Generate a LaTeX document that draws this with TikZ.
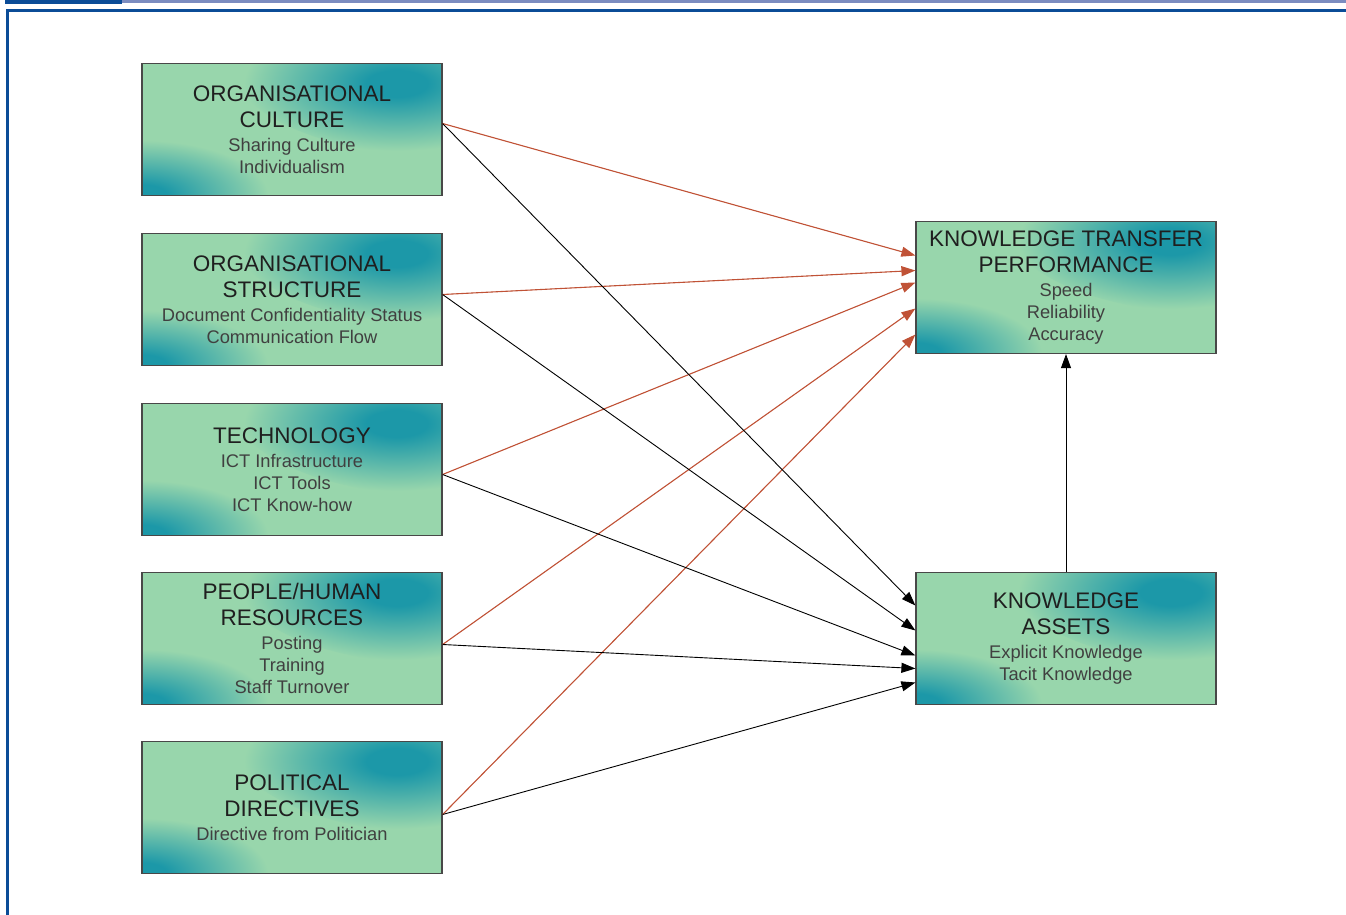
\documentclass[tikz,border=0pt]{standalone}
\usepackage{fontspec}
\setmainfont{Liberation Sans}
\usetikzlibrary{arrows.meta}
\definecolor{framedark}{RGB}{11,76,151}
\definecolor{framelight}{RGB}{123,140,192}
\definecolor{boxteal}{RGB}{28,152,168}
\definecolor{boxmint}{RGB}{152,214,172}
\definecolor{boxline}{RGB}{72,72,72}
\definecolor{redarrow}{RGB}{192,82,54}
\pgfdeclareradialshading{cornerglow}{\pgfpointorigin}{color(0bp)=(boxteal); color(3bp)=(boxteal); color(9bp)=(boxteal!50!boxmint); color(15bp)=(boxmint); color(50bp)=(boxmint)}
\newcommand{\hd}{\fontsize{22.5}{26}\selectfont\color{black!88}}

\begin{document}
\begin{tikzpicture}[x=1pt,y=-1pt]
\tikzset{box/.style = {shape=rectangle,draw=boxline,line width=1.2pt,
  minimum width=300pt,minimum height=132pt,align=center,fill=boxmint,
  path picture={
    \shade[shading=cornerglow] (path picture bounding box.north east) ellipse [x radius=210pt,y radius=92pt];
    \shade[shading=cornerglow] (path picture bounding box.south west) ellipse [x radius=210pt,y radius=92pt];},
  font=\fontsize{18.3}{22}\selectfont,text=black!75}}
\tikzset{edge/.style = {-{Triangle[length=14pt,width=10pt]},line width=0.9pt}}
\tikzset{redge/.style = {edge,draw=redarrow,fill=redarrow,line width=1.1pt}}
\useasboundingbox (0,0) rectangle (1346,915);
% frame
\fill[framedark] (5,0) rectangle (122,4);
\fill[framelight] (122,0) rectangle (1346,3.5);
\draw[framedark,line width=3pt] (7.5,915) -- (7.5,10.5) -- (1346,10.5);
% boxes
\node[box] (culture) at (292,129.5) {{\hd ORGANISATIONAL}\\[4pt]{\hd CULTURE}\\[2pt]Sharing Culture\\Individualism};
\node[box] (structure) at (292,299.5) {{\hd ORGANISATIONAL}\\[4pt]{\hd STRUCTURE}\\[2pt]Document Confidentiality Status\\Communication Flow};
\node[box] (tech) at (292,469.5) {{\hd TECHNOLOGY}\\[2pt]ICT Infrastructure\\ICT Tools\\ICT Know-how};
\node[box] (people) at (292,638.5) {{\hd PEOPLE/HUMAN}\\[4pt]{\hd RESOURCES}\\[2pt]Posting\\Training\\Staff Turnover};
\node[box] (politics) at (292,807.5) {{\hd POLITICAL}\\[4pt]{\hd DIRECTIVES}\\[2pt]Directive from Politician};
\node[box] (ktp) at (1066,287.5) {{\hd KNOWLEDGE TRANSFER}\\[4pt]{\hd PERFORMANCE}\\[2pt]Speed\\Reliability\\Accuracy};
\node[box] (assets) at (1066,638.5) {{\hd KNOWLEDGE}\\[4pt]{\hd ASSETS}\\[2pt]Explicit Knowledge\\Tacit Knowledge};
% red arrows
\draw[redge] ([yshift=6pt]culture.east) -- ([yshift=32pt]ktp.west);
\draw[redge] ([yshift=5pt]structure.east) -- ([yshift=17pt]ktp.west);
\draw[redge] ([yshift=-5pt]tech.east) -- ([yshift=5pt]ktp.west);
\draw[redge] ([yshift=-6pt]people.east) -- ([yshift=-21pt]ktp.west);
\draw[redge] ([yshift=-7pt]politics.east) -- ([yshift=-47pt]ktp.west);
% black arrows
\draw[edge] ([yshift=6pt]culture.east) -- ([yshift=33pt]assets.west);
\draw[edge] ([yshift=5pt]structure.east) -- ([yshift=8pt]assets.west);
\draw[edge] ([yshift=-5pt]tech.east) -- ([yshift=-17pt]assets.west);
\draw[edge] ([yshift=-6pt]people.east) -- ([yshift=-30pt]assets.west);
\draw[edge] ([yshift=-7pt]politics.east) -- ([yshift=-44pt]assets.west);
\draw[edge] (assets.north) -- (ktp.south);
\end{tikzpicture}
\end{document}
